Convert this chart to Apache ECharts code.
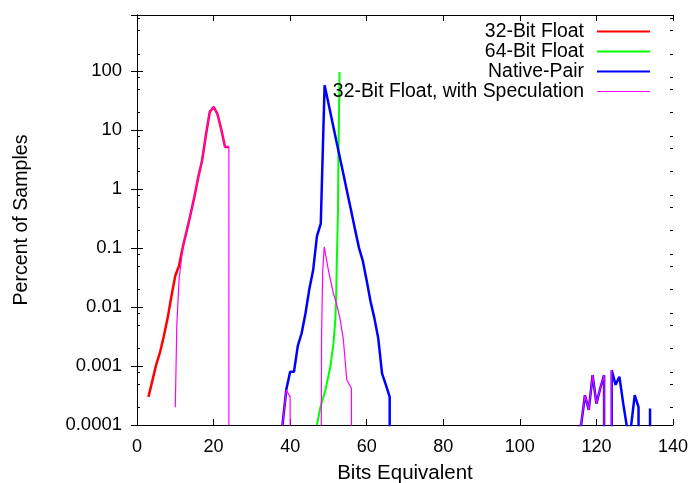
<!DOCTYPE html>
<html>
<head>
<meta charset="utf-8">
<script src="https://cdn.jsdelivr.net/npm/echarts@6/dist/echarts.min.js"></script>
<style>html,body{margin:0;padding:0;background:#fff;}#c{width:693px;height:483px;}</style>
</head>
<body>
<div id="c"></div>
<script>
// ---- data ----
const seriesNames = ['32-Bit Float', '64-Bit Float', 'Native-Pair', '32-Bit Float, with Speculation'];
const BELOW = 1e-7; // value below the axis floor (drop to bottom)

const float32X = [3, 4, 5, 6, 7, 8, 9, 10, 11, 12, 13, 14, 15, 16, 17, 18, 19, 20, 21, 22, 23, 24];
const float32Y = [0.0003, 0.00056, 0.00105, 0.0017, 0.0032, 0.0065, 0.0154, 0.034, 0.051, 0.107, 0.198, 0.38, 0.75, 1.6, 3.06, 8.3, 20.4, 24.8, 19, 10.4, 5.2, 5.2];

const float64X = [47, 47.9, 49.2, 50.5, 51.3, 51.8, 52, 52.2, 52.5, 52.6, 52.9];
const float64Y = [0.0001, 0.0002, 0.00039, 0.00097, 0.0024, 0.006, 0.013, 0.063, 0.44, 3.1, 97];

const nativeX = [38, 39, 40, 41, 42, 43, 44, 45, 46, 47, 48, 49, 50, 51, 52, 53, 54, 55, 56, 57, 58, 59, 60, 61, 62, 63, 64, 65, 66, 66,
                 116, 117, 118, 119, 120, 121, 122, 122, 124, 124, 125, 126, 127, 128, 129, 130, 131, 131, 134, 134, 134];
const nativeY = [0.0001, 0.0004, 0.0008, 0.0008, 0.0022, 0.0036, 0.0078, 0.02, 0.042, 0.16, 0.26, 58, 28.7, 14, 6.9, 3.42, 1.69, 0.83, 0.41, 0.2, 0.1, 0.06, 0.028, 0.0124, 0.0065, 0.003, 0.00075, 0.00048, 0.0003, BELOW,
                 0.0001, 0.00032, 0.00018, 0.0007, 0.00023, 0.00042, 0.0007, BELOW, BELOW, 0.00085, 0.00048, 0.00066, 0.00023, 0.00009, 0.00009, 0.00032, 0.0002, BELOW, BELOW, 0.00019, BELOW];

const specX = [10, 10.4, 11, 12, 13, 14, 15, 16, 17, 18, 19, 20, 21, 22, 23, 24, 24,
               38, 39, 40, 40,
               48, 48.2, 48.5, 48.9, 50, 51.3, 52.2, 53.1, 53.9, 54.8, 56, 56,
               116, 117, 118, 119, 120, 121, 122, 122, 124, 124, 124];
const specY = [0.0002, 0.005, 0.03, 0.107, 0.198, 0.38, 0.75, 1.6, 3.06, 8.3, 20.4, 24.8, 19, 10.4, 5.2, 5.2, BELOW,
               0.0001, 0.00039, 0.0003, BELOW,
               BELOW, 0.003, 0.04, 0.105, 0.042, 0.017, 0.011, 0.006, 0.0028, 0.00058, 0.00042, BELOW,
               0.0001, 0.00032, 0.00018, 0.0007, 0.00023, 0.00042, 0.0007, BELOW, BELOW, 0.00085, BELOW];

const yTickLabels = ['0.0001', '0.001', '0.01', '0.1', '1', '10', '100'];
const yMinorMultipliers = [2, 5, 8];
const xMin = 0, xMax = 140, xStep = 20;
const yMin = 0.0001, yMax = 900;

// ---- build ----
function zip(xs, ys) { return xs.map((x, i) => [x, ys[i]]); }
const minorTickValues = [];
for (let e = -4; e <= 2; e++) {
  yMinorMultipliers.forEach(m => {
    const v = m * Math.pow(10, e);
    if (v < yMax) minorTickValues.push([xMin, v]);
  });
}

const FONT = '"Liberation Sans", Arial, Helvetica, sans-serif';

function yLabel(v) {
  const e = Math.log10(v);
  const r = Math.round(e);
  if (Math.abs(e - r) > 1e-6) return '';
  const idx = r + 4;
  return yTickLabels[idx] !== undefined ? yTickLabels[idx] : '';
}

const axisLineStyle = { show: true, lineStyle: { color: '#000', width: 1 } };
const tickStyle = { show: true, inside: true, length: 6, lineStyle: { color: '#000', width: 1 } };

const chart = echarts.init(document.getElementById('c'), null, { renderer: 'canvas' });
chart.setOption({
  animation: false,
  backgroundColor: '#fff',
  textStyle: { fontFamily: FONT },
  grid: { left: 137, right: 20, top: 15, bottom: 58, containLabel: false, outerBoundsMode: 'none' },
  legend: {
    data: [
      { name: seriesNames[0], icon: 'path://M0,0H53V2H0Z' },
      { name: seriesNames[1], icon: 'path://M0,0H53V2H0Z' },
      { name: seriesNames[2], icon: 'path://M0,0H53V2H0Z' },
      { name: seriesNames[3], icon: 'path://M0,0H53V1H0Z' }
    ],
    orient: 'vertical',
    right: 38,
    top: 17,
    align: 'right',
    itemWidth: 53,
    itemHeight: 2,
    itemGap: 1,
    symbolKeepAspect: true,
    textStyle: { fontFamily: FONT, fontSize: 19.4, color: '#000', lineHeight: 14, padding: [0, 8, 0, 0] }
  },
  xAxis: [{
    type: 'value', min: xMin, max: xMax, interval: xStep,
    position: 'bottom',
    name: 'Bits Equivalent', nameLocation: 'middle', nameGap: 38,
    nameTextStyle: { fontFamily: FONT, fontSize: 20.5, color: '#000' },
    axisLine: axisLineStyle, axisTick: tickStyle,
    axisLabel: { fontFamily: FONT, fontSize: 18, color: '#000', margin: 13 },
    splitLine: { show: false }
  }, {
    type: 'value', min: xMin, max: xMax, interval: xStep,
    position: 'top',
    axisLine: axisLineStyle, axisTick: tickStyle,
    axisLabel: { show: false }, splitLine: { show: false }
  }],
  yAxis: [{
    type: 'log', logBase: 10, min: yMin, max: yMax,
    position: 'left',
    name: 'Percent of Samples', nameLocation: 'middle', nameGap: 105,
    nameTextStyle: { fontFamily: FONT, fontSize: 19.6, color: '#000' },
    axisLine: axisLineStyle, axisTick: tickStyle,
    axisLabel: { fontFamily: FONT, fontSize: 18.5, color: '#000', margin: 15, formatter: yLabel, showMaxLabel: false },
    splitLine: { show: false }
  }, {
    type: 'log', logBase: 10, min: yMin, max: yMax,
    position: 'right',
    axisLine: axisLineStyle, axisTick: tickStyle,
    axisLabel: { show: false }, splitLine: { show: false }
  }],
  series: [
    { name: seriesNames[0], type: 'line', data: zip(float32X, float32Y), symbol: 'none', clip: true,
      lineStyle: { color: '#ff0000', width: 2.5 }, itemStyle: { color: '#ff0000' }, z: 2 },
    { name: seriesNames[1], type: 'line', data: zip(float64X, float64Y), symbol: 'none', clip: true,
      lineStyle: { color: '#00ff00', width: 2 }, itemStyle: { color: '#00ff00' }, z: 3 },
    { name: seriesNames[2], type: 'line', data: zip(nativeX, nativeY), symbol: 'none', clip: true,
      lineStyle: { color: '#0000ff', width: 2.5 }, itemStyle: { color: '#0000ff' }, z: 4 },
    { name: seriesNames[3], type: 'line', data: zip(specX, specY), symbol: 'none', clip: true,
      lineStyle: { color: '#ff00ff', width: 1.2 }, itemStyle: { color: '#ff00ff' }, z: 5 },
    { name: 'minorTicks', type: 'custom', data: minorTickValues, silent: true, clip: false, z: 10,
      renderItem: function (params, api) {
        const p = api.coord([api.value(0), api.value(1)]);
        const cs = params.coordSys;
        const y = Math.round(p[1]) + 0.5;
        return { type: 'group', children: [
          { type: 'line', shape: { x1: cs.x, y1: y, x2: cs.x + 3, y2: y }, style: { stroke: '#000', lineWidth: 1 } },
          { type: 'line', shape: { x1: cs.x + cs.width - 3, y1: y, x2: cs.x + cs.width, y2: y }, style: { stroke: '#000', lineWidth: 1 } }
        ] };
      }
    }
  ]
});
</script>
</body>
</html>
